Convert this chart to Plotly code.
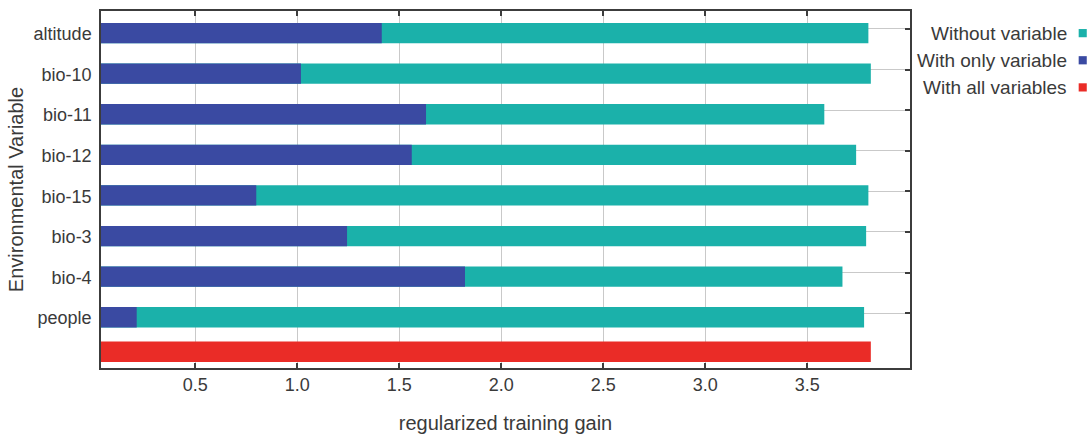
import plotly.graph_objects as go

# Jackknife of regularized training gain per environmental variable
variables = ["altitude", "bio-10", "bio-11", "bio-12", "bio-15", "bio-3", "bio-4", "people"]
gain_without = [3.799, 3.811, 3.583, 3.739, 3.799, 3.788, 3.672, 3.778]
gain_only = [1.414, 1.018, 1.631, 1.561, 0.799, 1.244, 1.822, 0.213]
gain_all = [3.811]
x_ticks = [0.5, 1.0, 1.5, 2.0, 2.5, 3.0, 3.5]
x_tick_text = ["0.5", "1.0", "1.5", "2.0", "2.5", "3.0", "3.5"]
legend_labels = ["Without variable", "With only variable", "With all variables"]

TEAL = "#1bb1aa"
BLUE = "#3a4aa2"
RED = "#ea2c27"
AXIS = "#3c3c3c"
GRID = "#c9c9c9"
TEXT = "#3a3a3a"
FONT = "Liberation Sans, Arial, sans-serif"

rows = list(range(len(variables)))
all_row = [len(variables)]

fig = go.Figure()
fig.add_trace(go.Bar(x=gain_without, y=rows, orientation="h", width=0.5, offset=-0.15,
                     marker=dict(color=TEAL, line=dict(width=0)), name=legend_labels[0]))
fig.add_trace(go.Bar(x=gain_only, y=rows, orientation="h", width=0.5, offset=-0.15,
                     marker=dict(color=BLUE, line=dict(width=0)), name=legend_labels[1]))
fig.add_trace(go.Bar(x=gain_all, y=all_row, orientation="h", width=0.5, offset=-0.3,
                     marker=dict(color=RED, line=dict(width=0)), name=legend_labels[2]))
# invisible trace that keeps the gridline axis alive
fig.add_trace(go.Scatter(x=[None], y=[None], yaxis="y2", showlegend=False, hoverinfo="skip"))

y_range = [8.35, -0.443]

fig.update_layout(
    width=1091, height=437,
    margin=dict(l=101, r=181, t=11, b=69),
    paper_bgcolor="white", plot_bgcolor="white",
    barmode="overlay", showlegend=False,
    font=dict(family=FONT, size=18, color=TEXT),
    xaxis=dict(
        range=[0.038, 4.003], tickvals=x_ticks, ticktext=x_tick_text, automargin=False,
        ticks="inside", ticklen=5, tickcolor=AXIS, tickwidth=1.5,
        showline=True, linecolor=AXIS, linewidth=1.5, mirror="ticks",
        showgrid=True, gridcolor=GRID, gridwidth=1, zeroline=False,
        tickfont=dict(size=18, color=TEXT),
        title=dict(text="regularized training gain", font=dict(size=20, color=TEXT), standoff=22),
    ),
    yaxis=dict(
        range=y_range, tickvals=[r + 0.12 for r in rows], ticktext=variables, automargin=False,
        ticks="", showgrid=False, zeroline=False, ticklabelstandoff=4,
        showline=True, linecolor=AXIS, linewidth=1.5, mirror=True,
        tickfont=dict(size=18, color=TEXT),
        title=dict(text="Environmental Variable", font=dict(size=20, color=TEXT), standoff=5),
    ),
    yaxis2=dict(
        overlaying="y", side="right", anchor="x", range=y_range, tickvals=rows, automargin=False,
        ticks="inside", ticklen=5, tickcolor=AXIS, tickwidth=1.5,
        showticklabels=False, showgrid=True, gridcolor=GRID, gridwidth=1,
        zeroline=False, showline=False,
    ),
)

# legend: right-aligned labels with small swatches on their right
legend_colors = [TEAL, BLUE, RED]
legend_y = [0.938, 0.862, 0.786]
for label, color, yy in zip(legend_labels, legend_colors, legend_y):
    fig.add_annotation(text=label, xref="paper", yref="paper", x=1.196, y=yy,
                       xanchor="right", yanchor="middle", showarrow=False,
                       font=dict(size=19, color=TEXT))
    fig.add_shape(type="rect", xref="paper", yref="paper",
                  x0=1.2085, x1=1.2185, y0=yy - 0.0115, y1=yy + 0.0115,
                  fillcolor=color, line=dict(width=0))

fig.write_html("out.html")
